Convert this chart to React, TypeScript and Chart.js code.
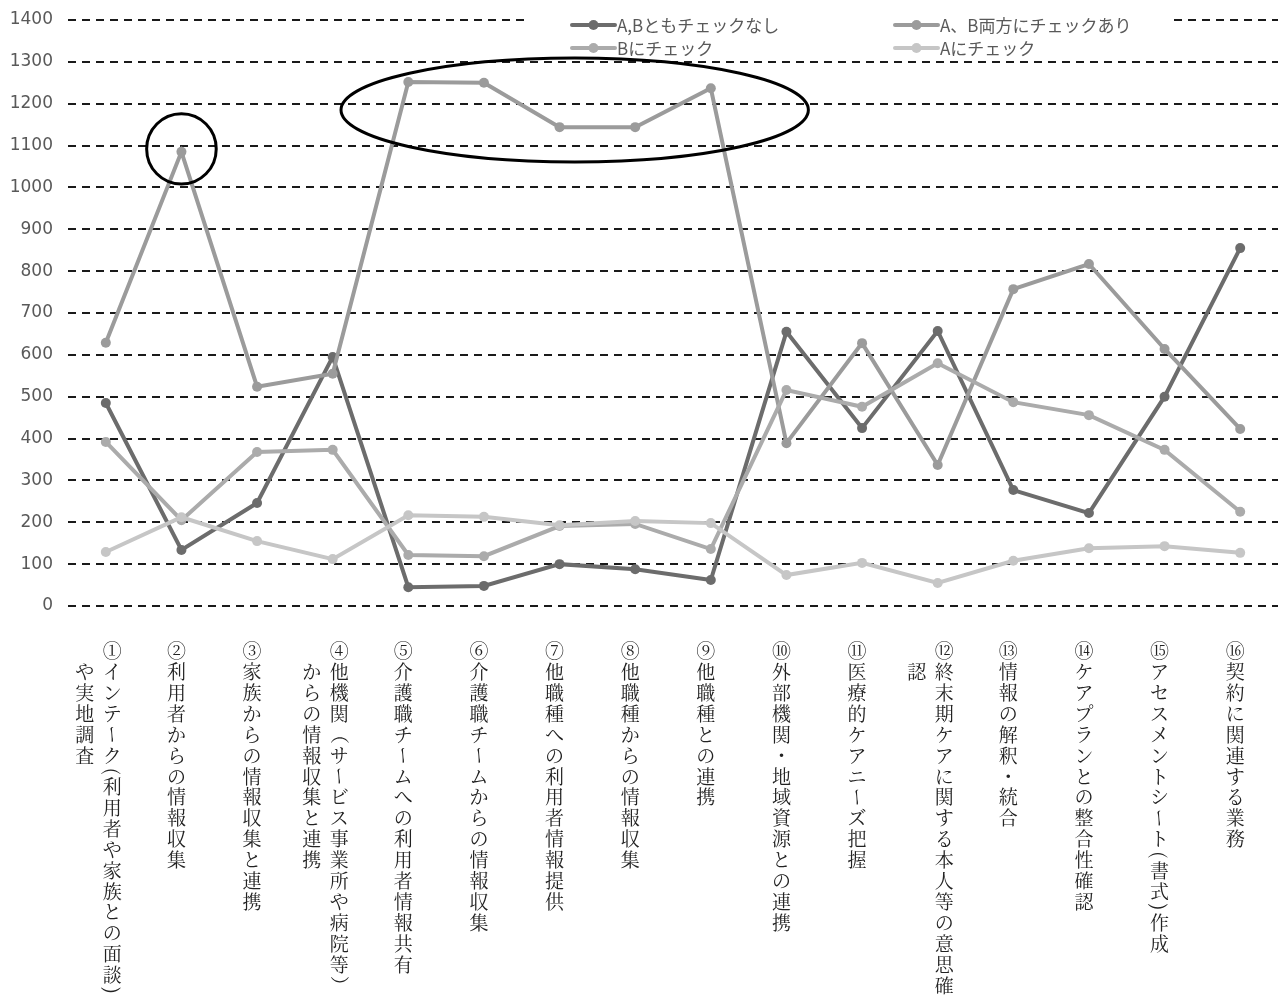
import React, { useEffect, useRef } from 'react';
import { Chart, registerables } from 'chart.js';

Chart.register(...registerables);

// Category labels (vertical writing; each entry = columns, right to left)
const categoryColumns: string[][] = [
  ['①インテーク(利用者や家族との面談)', 'や実地調査'],
  ['②利用者からの情報収集'],
  ['③家族からの情報収集と連携'],
  ['④他機関（サービス事業所や病院等）', 'からの情報収集と連携'],
  ['⑤介護職チームへの利用者情報共有'],
  ['⑥介護職チームからの情報収集'],
  ['⑦他職種への利用者情報提供'],
  ['⑧他職種からの情報収集'],
  ['⑨他職種との連携'],
  ['⑩外部機関・地域資源との連携'],
  ['⑪医療的ケアニーズ把握'],
  ['⑫終末期ケアに関する本人等の意思確', '認'],
  ['⑬情報の解釈・統合'],
  ['⑭ケアプランとの整合性確認'],
  ['⑮アセスメントシート(書式)作成'],
  ['⑯契約に関連する業務'],
];
const categories: string[] = categoryColumns.map((c) => c.join(''));

const seriesNames: string[] = ['A,Bともチェックなし', 'A、B両方にチェックあり', 'Bにチェック', 'Aにチェック'];

const noneChecked: number[] = [485, 134, 246, 595, 45, 48, 100, 88, 62, 655, 425, 657, 277, 222, 500, 855];
const bothChecked: number[] = [629, 1085, 524, 555, 1252, 1250, 1144, 1144, 1237, 389, 628, 337, 757, 817, 614, 423];
const bChecked: number[] = [392, 205, 368, 373, 122, 119, 191, 196, 136, 516, 476, 580, 487, 456, 373, 225];
const aChecked: number[] = [129, 212, 155, 112, 217, 213, 193, 203, 198, 74, 103, 55, 108, 138, 143, 127];

const seriesColors: string[] = ['#6c6c6c', '#9b9b9b', '#ababab', '#c6c6c6'];

const yMin = 0;
const yMax = 1400;
const yStep = 100;

// Annotation ellipses in data space: [centerIndex, centerValue, radiusIndex, radiusValue]
const annotations: number[][] = [
  [1, 1092, 0.46, 84],
  [6.2, 1185, 3.09, 124],
];

const LABEL_FONT = "19px 'Noto Serif CJK JP', 'Noto Sans CJK JP', sans-serif";
const LEGEND_FONT = "17px 'Noto Sans CJK JP', sans-serif";

const HALF_CHARS = new Set(['(', ')']);
const ROTATE_CHARS = new Set(['(', ')', '（', '）', 'ー']);

function drawVertical(ctx: CanvasRenderingContext2D, text: string, cx: number, top: number, cell: number) {
  let y = top;
  for (const ch of Array.from(text)) {
    const adv = HALF_CHARS.has(ch) ? cell * 0.5 : cell;
    const cy = y + adv / 2;
    if (ROTATE_CHARS.has(ch)) {
      ctx.save();
      ctx.translate(cx, cy);
      ctx.rotate(Math.PI / 2);
      ctx.fillText(ch, 0, 0);
      ctx.restore();
    } else {
      ctx.fillText(ch, cx, cy);
    }
    y += adv;
  }
}

const overlayPlugin = {
  id: 'overlay',
  afterDraw(chart: any) {
    const ctx: CanvasRenderingContext2D = chart.ctx;
    const xs = chart.scales.x;
    const ys = chart.scales.y;
    const area = chart.chartArea;

    // Legend (white box hides top gridline)
    ctx.save();
    ctx.fillStyle = '#ffffff';
    ctx.fillRect(530, 6, 1173 - 530, 50);
    const colX = [572, 895];
    const rowY = [25, 48];
    ctx.font = LEGEND_FONT;
    ctx.textBaseline = 'middle';
    ctx.textAlign = 'left';
    chart.data.datasets.forEach((ds: any, i: number) => {
      const x = colX[i % 2];
      const y = rowY[Math.floor(i / 2)];
      ctx.strokeStyle = ds.borderColor;
      ctx.lineWidth = 4;
      ctx.lineCap = 'round';
      ctx.beginPath();
      ctx.moveTo(x, y);
      ctx.lineTo(x + 43, y);
      ctx.stroke();
      ctx.fillStyle = ds.borderColor;
      ctx.beginPath();
      ctx.arc(x + 21.5, y, 5, 0, Math.PI * 2);
      ctx.fill();
      ctx.fillStyle = '#595959';
      ctx.fillText(ds.label, x + 45, y + 1);
    });
    ctx.restore();

    // Annotation ellipses
    ctx.save();
    ctx.strokeStyle = '#000000';
    ctx.lineWidth = 3;
    annotations.forEach(([ci, cv, ri, rv]) => {
      const cx = xs.getPixelForValue(ci);
      const cy = ys.getPixelForValue(cv);
      const rx = Math.abs(xs.getPixelForValue(ci + ri) - cx);
      const ry = Math.abs(ys.getPixelForValue(cv + rv) - cy);
      ctx.beginPath();
      ctx.ellipse(cx, cy, rx, ry, 0, 0, Math.PI * 2);
      ctx.stroke();
    });
    ctx.restore();

    // Vertical category labels
    ctx.save();
    ctx.font = LABEL_FONT;
    ctx.fillStyle = '#222222';
    ctx.textAlign = 'center';
    ctx.textBaseline = 'middle';
    const cell = 20.9;
    const top = area.bottom + 34.5;
    categoryColumns.forEach((cols, i) => {
      const x = xs.getPixelForValue(i);
      const n = cols.length;
      cols.forEach((col, j) => {
        const cx = x - 5 + (n - 1) * 11.5 - j * 27.5;
        drawVertical(ctx, col, cx, top + (j > 0 ? cell : 0), cell);
      });
    });
    ctx.restore();
  },
};

export default function App() {
  const ref = useRef<HTMLCanvasElement>(null);

  useEffect(() => {
    if (!ref.current) return;
    const seriesData = [noneChecked, bothChecked, bChecked, aChecked];
    const chart = new Chart(ref.current, {
      type: 'line',
      data: {
        labels: categories,
        datasets: seriesData.map((d, i) => ({
          label: seriesNames[i],
          data: d,
          borderColor: seriesColors[i],
          backgroundColor: seriesColors[i],
          pointBackgroundColor: seriesColors[i],
          pointBorderWidth: 0,
          pointRadius: 5,
          pointHoverRadius: 5,
          borderWidth: 4,
          tension: 0,
          fill: false,
          order: 4 - i,
        })),
      },
      options: {
        responsive: false,
        animation: false,
        devicePixelRatio: 1,
        layout: { padding: { top: 20, bottom: 395, left: 0, right: 0 } },
        plugins: {
          legend: { display: false },
          tooltip: { enabled: false },
        },
        scales: {
          x: {
            type: 'category',
            offset: true,
            display: false,
          },
          y: {
            min: yMin,
            max: yMax,
            afterFit: (s: any) => {
              s.width = 68;
              s.paddingTop = 0;
              s.paddingBottom = 0;
            },
            ticks: {
              stepSize: yStep,
              padding: 15,
              color: '#595959',
              font: { family: "'DejaVu Sans', sans-serif", size: 17 },
              callback: (v: any) => String(v),
            },
            grid: {
              color: '#1a1a1a',
              lineWidth: 2,
              drawTicks: false,
            },
            border: { display: false, dash: [8, 6] },
          },
        },
      },
      plugins: [overlayPlugin],
    } as any);
    return () => chart.destroy();
  }, []);

  return (
    <div
      style={{
        position: 'absolute',
        left: 0,
        top: 0,
        width: 1280,
        height: 1001,
        overflow: 'hidden',
        background: '#ffffff',
      }}
    >
      <canvas ref={ref} width={1283} height={1001} style={{ display: 'block' }} />
    </div>
  );
}
